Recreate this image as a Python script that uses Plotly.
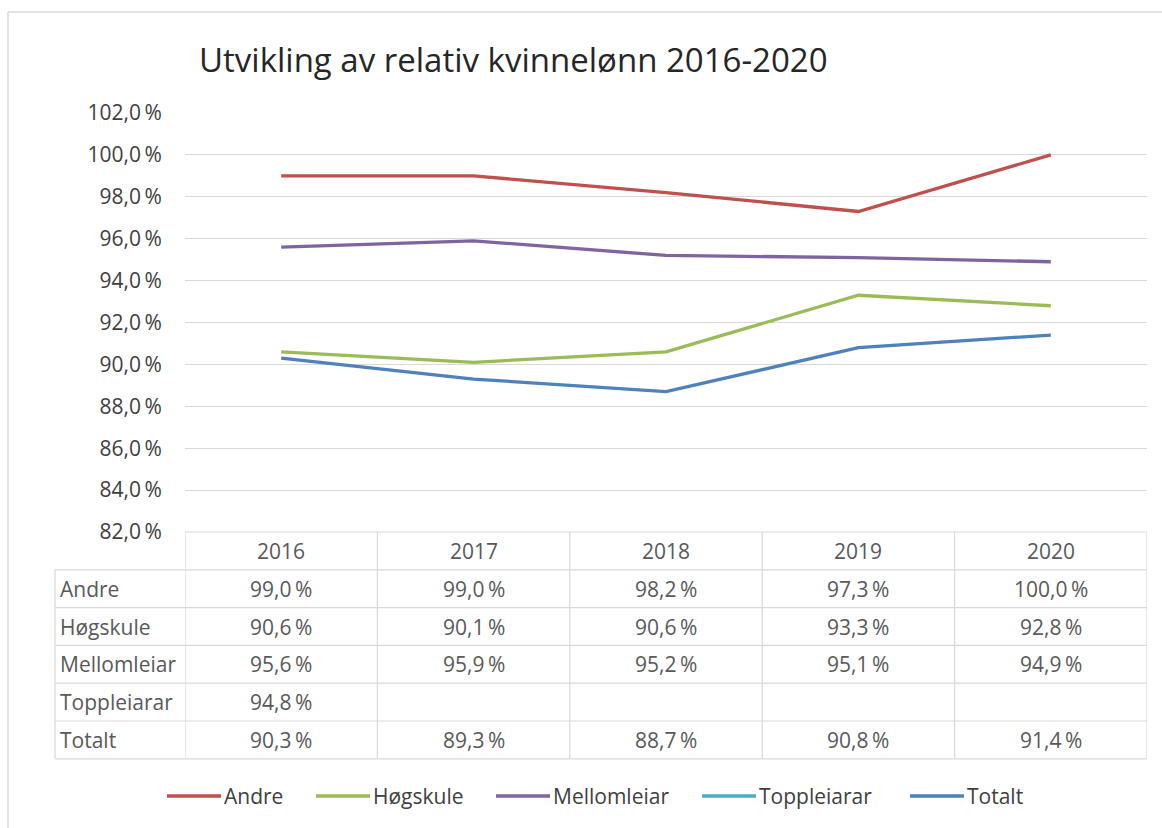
import plotly.graph_objects as go

# ---- data ----
years = ["2016", "2017", "2018", "2019", "2020"]
andre = [99.0, 99.0, 98.2, 97.3, 100.0]
hogskule = [90.6, 90.1, 90.6, 93.3, 92.8]
mellomleiar = [95.6, 95.9, 95.2, 95.1, 94.9]
toppleiarar = [94.8, None, None, None, None]
totalt = [90.3, 89.3, 88.7, 90.8, 91.4]
series_names = ["Andre", "Høgskule", "Mellomleiar", "Toppleiarar", "Totalt"]
series_colors = ["#C0504D", "#9BBB59", "#8064A2", "#4BACC6", "#4F81BD"]
y_ticks = [82, 84, 86, 88, 90, 92, 94, 96, 98, 100, 102]
title_text = "Utvikling av relativ kvinnelønn 2016-2020"

series_values = [andre, hogskule, mellomleiar, toppleiarar, totalt]

W, H = 1162, 828
FONT = "'Open Sans', sans-serif"
TXT = "#595959"
FS = 21


def px(x):
    return x / W


def py(y):
    return 1 - y / H


def fmt(v):
    return f"{v:.1f}".replace(".", ",") + "\u2009%"


x_idx = list(range(len(years)))

fig = go.Figure()
for name, vals, col in zip(series_names, series_values, series_colors):
    fig.add_trace(go.Scatter(x=x_idx, y=vals, mode="lines", name=name,
                             line=dict(color=col, width=3.3),
                             connectgaps=False, showlegend=False))

plot_left, plot_right, plot_top, plot_bottom = 185, 1147, 113, 532
row_h = 37.8
n_rows = len(series_names)
table_bottom = plot_bottom + row_h * (n_rows + 1)
label_left = 55

shapes = []
annotations = []
grid_col = "#D9D9D9"


def pline(x0, y0, x1, y1, color, width):
    return dict(type="line", xref="paper", yref="paper",
                x0=px(x0), x1=px(x1), y0=py(y0), y1=py(y1),
                line=dict(color=color, width=width))


# outer chart border (top and left; the rest lies outside the picture)
shapes.append(pline(8, 12, 1162, 12, "#D9D9D9", 1.5))
shapes.append(pline(8, 12, 8, 828, "#D9D9D9", 1.5))

# table horizontal lines
for r in range(n_rows + 2):
    yy = plot_bottom + r * row_h
    x0 = plot_left if r == 0 else label_left
    shapes.append(pline(x0, yy, plot_right, yy, grid_col, 1.2))
# table vertical lines (category boundaries)
for i in range(len(years) + 1):
    shapes.append(dict(type="line", xref="x", yref="paper",
                       x0=i - 0.5, x1=i - 0.5, y0=py(plot_bottom), y1=py(table_bottom),
                       line=dict(color=grid_col, width=1.2)))
shapes.append(pline(label_left, plot_bottom + row_h, label_left, table_bottom, grid_col, 1.2))

# header (years)
for i, yr in enumerate(years):
    annotations.append(dict(x=i, y=py(plot_bottom + row_h / 2), xref="x", yref="paper",
                            text=yr, showarrow=False, xanchor="center", yanchor="middle",
                            font=dict(family=FONT, size=FS, color=TXT)))
# rows
for r, (name, vals) in enumerate(zip(series_names, series_values)):
    yc = plot_bottom + row_h * (r + 1.5)
    annotations.append(dict(x=px(label_left + 3), y=py(yc), xref="paper", yref="paper",
                            text=name, showarrow=False, xanchor="left", yanchor="middle",
                            font=dict(family=FONT, size=FS, color=TXT)))
    for i, v in enumerate(vals):
        if v is None:
            continue
        annotations.append(dict(x=i, y=py(yc), xref="x", yref="paper",
                                text=fmt(v), showarrow=False, xanchor="center",
                                yanchor="middle",
                                font=dict(family=FONT, size=FS, color=TXT)))

# manual legend
legend_x = [167, 316, 496, 702, 910]
legend_y = 796
for lx, name, col in zip(legend_x, series_names, series_colors):
    shapes.append(pline(lx, legend_y, lx + 54, legend_y, col, 3.3))
    annotations.append(dict(x=px(lx + 55), y=py(legend_y), xref="paper", yref="paper",
                            text=name, showarrow=False, xanchor="left", yanchor="middle",
                            font=dict(family=FONT, size=FS, color="#404040")))

# title
annotations.append(dict(x=px(197), y=py(60), xref="paper", yref="paper",
                        text=title_text, showarrow=False, xanchor="left", yanchor="middle",
                        font=dict(family=FONT, size=33, color="#262626")))

fig.update_layout(
    width=W, height=H, autosize=False,
    margin=dict(l=0, r=0, t=0, b=0, pad=0, autoexpand=False),
    paper_bgcolor="white", plot_bgcolor="white",
    showlegend=False,
    shapes=shapes, annotations=annotations,
    xaxis=dict(domain=[px(plot_left), px(plot_right)], range=[-0.5, len(years) - 0.5],
               showgrid=False, zeroline=False, showline=False, showticklabels=False,
               fixedrange=True, automargin=False),
    yaxis=dict(domain=[py(plot_bottom), py(plot_top)], range=[y_ticks[0], y_ticks[-1]],
               tickvals=y_ticks, ticktext=[fmt(v) for v in y_ticks],
               showgrid=True, gridcolor=grid_col, gridwidth=1.2, zeroline=False,
               showline=False, ticks="outside", ticklen=18, tickcolor="rgba(0,0,0,0)",
               tickfont=dict(family=FONT, size=FS, color="#404040"), fixedrange=True,
               automargin=False),
)

post = (
    "document.documentElement.style.margin='0';"
    "document.documentElement.style.overflow='hidden';"
    "document.body.style.margin='0';"
    "document.body.style.overflow='hidden';"
    "var d=document.querySelector('.plotly-graph-div');"
    "d.style.position='fixed';d.style.left='0px';d.style.top='0px';"
)
fig.write_html("out.html", config={"displayModeBar": False}, post_script=post)
